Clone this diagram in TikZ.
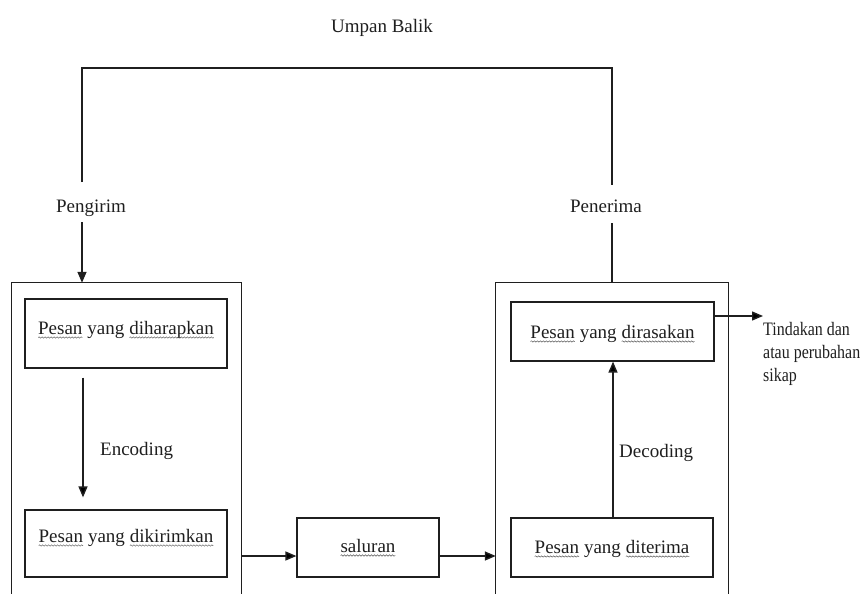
\documentclass[tikz,border=0pt]{standalone}
\usepackage{fontspec}
\setmainfont{Liberation Serif}
\newfontfamily\condfont[FakeStretch=0.84]{Liberation Serif}
\usetikzlibrary{arrows.meta,decorations.pathmorphing}
\newcommand\wv[1]{\tikz[baseline=(wvw.base), x=1cm, y=1cm]{\node[inner sep=0pt, outer sep=0pt,
    minimum width=0pt, minimum height=0pt, text height={}, text depth={}, draw=none,
    shape=rectangle, anchor=center] (wvw) {#1};
  \draw[draw=black!65, line width=0.5pt, decorate, decoration={snake,amplitude=0.7pt,segment length=3pt}]
    ([yshift=-3.5pt]wvw.base west) -- ([yshift=-3.5pt]wvw.base east);}}
\definecolor{ink}{gray}{0.12}
\tikzset{
  lbl/.style={font=\fontsize{19}{22}\selectfont, text=ink, inner sep=0pt},
  msgbox/.style={draw=ink, line width=1.2pt, inner xsep=0pt, inner ysep=0pt,
    font=\fontsize{19}{22}\selectfont, text=ink},
  conn/.style={draw=ink, line width=1.4pt},
  arr/.style={conn, -{Triangle[length=11pt,width=9pt]}}
}
\begin{document}
\begin{tikzpicture}[x=1pt,y=-1pt]
\useasboundingbox (0,0) rectangle (863,594);

% titles
\node[lbl, anchor=base] (ub) at (382,33) {Umpan Balik};
\node[lbl, anchor=base] (pg) at (91,212) {Pengirim};
\node[lbl, anchor=base] (pn) at (606,212) {Penerima};

% feedback loop
\coordinate (tl) at (82,68);
\coordinate (tr) at (612,68);
\coordinate (pgup) at (82,182);
\coordinate (pgdn) at (82,222);
\coordinate (pnup) at (612,185);
\coordinate (pndn) at (612,223);
\draw[conn] (pgup) -- (tl) -- (tr) -- (pnup);

% big open boxes
\node[minimum width=229pt, minimum height=311pt, inner sep=0pt] (L) at (126.5,438.5) {};
\node[minimum width=232pt, minimum height=311pt, inner sep=0pt] (R) at (612,438.5) {};
\draw[conn, line width=1.3pt] (L.south west) -- (L.north west) -- (L.north east) -- (L.south east);
\draw[conn, line width=1.3pt] (R.south west) -- (R.north west) -- (R.north east) -- (R.south east);

\draw[arr] (pgdn) -- (L.north -| pgdn);
\draw[conn] (pndn) -- (R.north -| pndn);

% message boxes
\node[msgbox, minimum width=202pt, minimum height=69pt, text height=35pt, text depth=34pt]
  (dih) at (126,333.5) {\wv{Pesan} yang \wv{diharapkan}};
\node[msgbox, minimum width=202pt, minimum height=67pt, text height=32pt, text depth=35pt]
  (dik) at (126,543.5) {\wv{Pesan} yang \wv{dikirimkan}};
\node[msgbox, minimum width=142pt, minimum height=59pt, text height=34pt, text depth=25pt]
  (sal) at (368,547.5) {\wv{saluran}};
\node[msgbox, minimum width=203pt, minimum height=59pt, text height=36pt, text depth=23pt]
  (dir) at (612.5,331.5) {\wv{Pesan} yang \wv{dirasakan}\hspace{17pt}};
\node[msgbox, minimum width=202pt, minimum height=59pt, text height=35pt, text depth=24pt]
  (dit) at (612,547.5) {\wv{Pesan} yang \wv{diterima}\hspace{22pt}};

% encoding / decoding
\coordinate (encx) at (83,0);
\coordinate (decx) at (613,0);
\draw[arr, shorten <=9pt, shorten >=12pt] (dih.south -| encx) -- (dik.north -| encx);
\node[lbl, anchor=base west] (enc) at (100,455) {Encoding};
\draw[arr] (dit.north -| decx) -- (dir.south -| decx);
\node[lbl, anchor=base west] (dec) at (619,457) {Decoding};

% channel
\coordinate (chy) at (0,556);
\draw[arr] (L.east |- chy) -- (sal.west |- chy);
\draw[arr] (sal.east |- chy) -- (R.west |- chy);

% outcome
\node[lbl, anchor=north west, align=left, font=\condfont\fontsize{19}{23}\selectfont]
  (tin) at (763,322) {Tindakan dan\\atau perubahan\\sikap};
\coordinate (outy) at (0,316);
\draw[arr] (dir.east |- outy) -- (tin.west |- outy);
\end{tikzpicture}
\end{document}
